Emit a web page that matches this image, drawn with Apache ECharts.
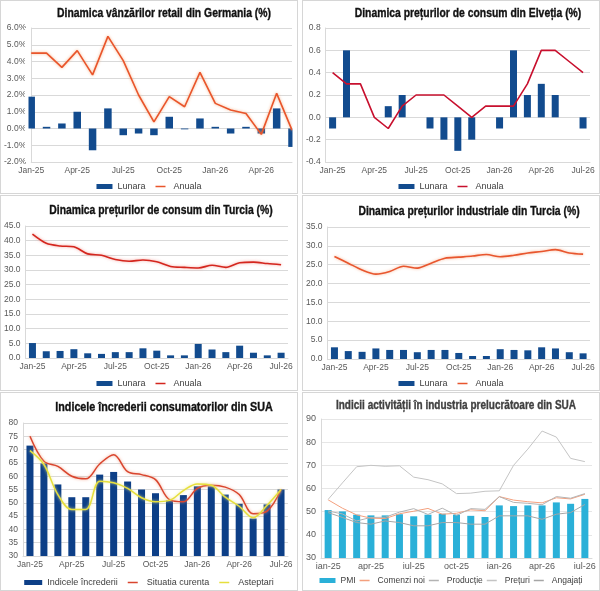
<!DOCTYPE html>
<html>
<head>
<meta charset="utf-8">
<script src="https://cdn.jsdelivr.net/npm/echarts@6/dist/echarts.min.js"></script>
<style>
  body { margin: 0; background: #fff; }
  .wrap { position: relative; width: 600px; height: 591px; overflow: hidden; }
  .p { position: absolute; border: 1px solid #d6d6d6; box-sizing: border-box; }
</style>
</head>
<body>
<div class="wrap">
  <div class="p" id="c1" style="left:0;top:0;width:298px;height:194px"></div>
  <div class="p" id="c2" style="left:302px;top:0;width:298px;height:194px"></div>
  <div class="p" id="c3" style="left:0;top:195px;width:298px;height:196px"></div>
  <div class="p" id="c4" style="left:302px;top:195px;width:298px;height:196px"></div>
  <div class="p" id="c5" style="left:0;top:392px;width:298px;height:199px"></div>
  <div class="p" id="c6" style="left:302px;top:392px;width:298px;height:199px"></div>
</div>
<script>
// luni (axa X)
var luni = ['Jan-25', 'Feb-25', 'Mar-25', 'Apr-25', 'May-25', 'Jun-25', 'Jul-25', 'Aug-25', 'Sep-25', 'Oct-25', 'Nov-25', 'Dec-25',
            'Jan-26', 'Feb-26', 'Mar-26', 'Apr-26', 'May-26', 'Jun-26', 'Jul-26'];
var luniRo = ['ian-25', 'feb-25', 'mar-25', 'apr-25', 'mai-25', 'iun-25', 'iul-25', 'aug-25', 'sep-25', 'oct-25', 'noi-25', 'dec-25',
              'ian-26', 'feb-26', 'mar-26', 'apr-26', 'mai-26', 'iun-26', 'iul-26'];

// Germania - vanzari retail (%)
var deLunara = [1.9, 0.1, 0.3, 1.0, -1.3, 1.2, -0.4, -0.3, -0.4, 0.7, -0.05, 0.6, 0.1, -0.3, 0.1, -0.3, 1.2, -1.1];
var deAnuala = [4.5, 4.5, 3.65, 4.65, 3.2, 5.5, 4.05, 2.0, 0.4, 1.9, 1.3, 3.35, 1.5, 1.1, 0.9, -0.35, 2.1, -0.1];

// Elvetia - preturi de consum (%)
var chLunara = [-0.1, 0.6, 0, 0, 0.1, 0.2, 0, -0.1, -0.2, -0.3, -0.2, 0, -0.1, 0.6, 0.2, 0.3, 0.2, 0, -0.1];
var chAnuala = [0.4, 0.3, 0.3, 0, -0.1, 0.1, 0.2, 0.2, 0.2, 0.1, 0, 0.1, 0.1, 0.1, 0.3, 0.6, 0.6, 0.5, 0.4];

// Turcia - preturi de consum (%)
var trLunara = [5.1, 2.3, 2.4, 3.0, 1.6, 1.4, 2.0, 2.0, 3.3, 2.5, 0.9, 0.9, 4.8, 2.9, 2.0, 4.2, 1.8, 0.9, 1.8];
var trAnuala = [42.2, 39.1, 38.2, 37.9, 35.5, 35.0, 33.6, 33.0, 33.4, 32.8, 31.2, 30.9, 30.7, 31.6, 30.9, 32.5, 32.7, 32.2, 31.8];

// Turcia - preturi industriale (%)
var ppiLunara = [3.1, 2.1, 1.9, 2.8, 2.4, 2.4, 1.8, 2.4, 2.4, 1.6, 0.8, 0.8, 2.6, 2.4, 2.3, 3.1, 2.8, 1.8, 1.5];
var ppiAnuala = [27.2, 25.4, 23.6, 22.5, 23.2, 24.6, 24.1, 25.4, 26.7, 27.0, 27.3, 27.7, 27.1, 27.5, 28.1, 28.5, 29.0, 28.1, 27.8];

// SUA - increderea consumatorilor
var incredere = [71.5, 64.8, 56.9, 52.1, 52.1, 60.6, 61.6, 58.0, 55.0, 53.6, 50.9, 52.9, 56.2, 56.2, 53.1, 49.6, 44.1, 49.4, 55.0];
var situatie = [75.0, 65.6, 63.7, 60.0, 59.0, 64.6, 68.1, 61.7, 60.6, 58.7, 51.2, 50.4, 55.4, 56.6, 55.9, 53.1, 45.9, 46.9, 55.0];
var asteptari = [69.6, 64.4, 53.1, 47.5, 47.5, 58.1, 57.5, 55.4, 51.9, 50.4, 50.9, 54.6, 57.1, 56.6, 52.1, 48.7, 44.4, 49.1, 55.0];

// SUA - industria prelucratoare
var pmi = [50.7, 50.1, 48.7, 48.4, 48.4, 48.9, 48.0, 48.7, 49.1, 48.7, 48.2, 47.7, 52.7, 52.4, 52.7, 52.7, 54.0, 53.4, 55.5];
var comenzi = [55.1, 51.5, 48.6, 47.2, 47.0, 49.1, 50.2, 51.4, 48.9, 49.3, 50.8, 50.4, 56.5, 55.0, 54.3, 53.8, 56.0, 55.5, 57.5];
var productie = [50.3, 49.0, 46.0, 47.5, 47.6, 49.8, 51.3, 48.8, 51.5, 48.4, 51.3, 51.0, 56.5, 54.0, 53.6, 53.0, 56.5, 55.8, 57.8];
var preturi = [55.3, 62.4, 69.4, 70.0, 69.6, 69.8, 64.9, 63.8, 62.0, 57.8, 58.0, 58.8, 59.0, 70.0, 77.0, 84.8, 82.2, 73.0, 71.6];
var angajati = [49.6, 47.5, 45.3, 44.6, 46.0, 45.3, 43.9, 43.9, 45.3, 45.3, 44.6, 44.6, 48.2, 48.2, 48.2, 46.7, 48.9, 49.6, 53.1];

var FONT = "'Liberation Sans Narrow', 'Arial Narrow', sans-serif";
var GRID = '#d9d9d9';
// linie subtire centrata in caseta iconului din legenda
var LINE_ICON = 'path://M0,0h0.1v0.1h-0.1z M0,3.6h20v2.8h-20z M0,9.9h0.1v0.1h-0.1z';

function titlu(text, x, y, sx, color) {
  var c = color || '#111';
  return {
    type: 'text', x: x, y: y, scaleX: sx, silent: true, z: 10,
    style: {
      text: text, font: 'bold 12.5px ' + FONT, fill: c, stroke: c, lineWidth: 0.35,
      textAlign: 'center', textVerticalAlign: 'middle'
    }
  };
}

function axaX(data, gap) {
  return {
    type: 'category', data: data, boundaryGap: gap,
    axisLine: { onZero: false, lineStyle: { color: GRID } },
    axisTick: { show: false },
    axisLabel: { interval: 2, margin: 4, fontSize: 8.5, fontFamily: FONT, color: '#595959' },
    splitLine: { show: false }
  };
}

function axaY(min, max, step, dec, suf) {
  return {
    type: 'value', min: min, max: max, interval: step,
    axisLine: { show: true, lineStyle: { color: GRID } },
    axisTick: { show: false },
    axisLabel: {
      margin: 5, fontSize: 8.5, fontFamily: FONT, color: '#595959',
      formatter: function (v) { return v.toFixed(dec) + (suf || ''); }
    },
    splitLine: { lineStyle: { color: GRID, width: 1 } }
  };
}

function legenda(top, items, w, gap) {
  return {
    top: top, left: 'center', padding: 0, itemWidth: w || 16, itemHeight: 5, itemGap: gap || 10,
    textStyle: { fontSize: 9, fontFamily: FONT, color: '#404040' },
    data: items.map(function (it) {
      return { name: it[0], icon: it[1] ? 'rect' : LINE_ICON };
    })
  };
}

// grafic standard: Lunara (bare) + Anuala (linie)
function lunarAnual(id, o) {
  var chart = echarts.init(document.getElementById(id));
  var graphic = [titlu(o.titlu, o.tx, o.ty, 0.83)];
  if (o.masca) {
    // axa cu boundaryGap false: barele de la capete sunt taiate de marginea graficului
    var w = chart.getWidth();
    var h = chart.getHeight() - o.grid.top - o.grid.bottom;
    graphic.push({ type: 'rect', z: 5, silent: true, shape: { x: o.grid.left - 4, y: o.grid.top, width: 3.5, height: h }, style: { fill: '#fff' } });
    graphic.push({ type: 'rect', z: 5, silent: true, shape: { x: w - o.grid.right + 0.5, y: o.grid.top, width: 6, height: h }, style: { fill: '#fff' } });
  }
  chart.setOption({
    animation: false,
    graphic: graphic,
    grid: o.grid,
    legend: legenda(o.ly, [['Lunara', true], ['Anuala', false]]),
    xAxis: axaX(o.x, o.gap),
    yAxis: axaY(o.min, o.max, o.step, 1, o.suf),
    series: [
      { name: 'Lunara', type: 'bar', data: o.lunar, barWidth: o.bw, itemStyle: { color: '#124b8e' } },
      {
        name: 'Anuala', type: 'line', data: o.anual, symbol: 'none', smooth: o.smooth || false,
        lineStyle: { color: o.lc, width: 1.6, shadowColor: o.glow, shadowBlur: 3 },
        itemStyle: { color: o.lc }
      }
    ]
  });
}

lunarAnual('c1', {
  titlu: 'Dinamica vânzărilor retail din Germania (%)', tx: 163, ty: 13,
  grid: { left: 28, right: 5, top: 27, bottom: 31 }, masca: true,
  ly: 181, x: luni.slice(0, 18), gap: false, min: -2, max: 6, step: 1, suf: '%',
  lunar: deLunara, anual: deAnuala, bw: 7.5, lc: '#e9552b', glow: 'rgba(245,160,110,0.8)'
});

lunarAnual('c2', {
  titlu: 'Dinamica prețurilor de consum din Elveția (%)', tx: 165, ty: 13,
  grid: { left: 21, right: 9, top: 27, bottom: 31 },
  ly: 181, x: luni, gap: true, min: -0.4, max: 0.8, step: 0.2,
  lunar: chLunara, anual: chAnuala, bw: 7, lc: '#c8102e', glow: 'rgba(200,16,46,0)'
});

lunarAnual('c3', {
  titlu: 'Dinamica prețurilor de consum din Turcia (%)', tx: 160, ty: 15,
  grid: { left: 23, right: 9, top: 30, bottom: 32 },
  ly: 183, x: luni, gap: true, min: 0, max: 45, step: 5,
  lunar: trLunara, anual: trAnuala, bw: 7, lc: '#d4261e', glow: 'rgba(240,120,110,0.7)', smooth: 0.3
});

lunarAnual('c4', {
  titlu: 'Dinamica prețurilor industriale din Turcia (%)', tx: 166, ty: 16,
  grid: { left: 21, right: 9, top: 31, bottom: 31 },
  ly: 183, x: luni, gap: true, min: 0, max: 35, step: 5,
  lunar: ppiLunara, anual: ppiAnuala, bw: 7, lc: '#e8562e', glow: 'rgba(245,160,120,0.8)', smooth: 0.3
});

// increderea consumatorilor SUA
(function () {
  var chart = echarts.init(document.getElementById('c5'));
  chart.setOption({
    animation: false,
    graphic: [titlu('Indicele încrederii consumatorilor din SUA', 163, 15, 0.86)],
    grid: { left: 22, right: 9, top: 30, bottom: 34 },
    legend: legenda(185, [['Indicele încrederii', true], ['Situatia curenta', false], ['Asteptari', false]], 18, 10),
    xAxis: axaX(luni, true),
    yAxis: axaY(30, 80, 5, 0),
    series: [
      { name: 'Indicele încrederii', type: 'bar', data: incredere, barWidth: 7, itemStyle: { color: '#0d3f87' } },
      {
        name: 'Situatia curenta', type: 'line', data: situatie, symbol: 'none', smooth: 0.35,
        lineStyle: { color: '#d9452e', width: 1.5, shadowColor: 'rgba(240,150,120,0.8)', shadowBlur: 3 },
        itemStyle: { color: '#d9452e' }
      },
      {
        name: 'Asteptari', type: 'line', data: asteptari, symbol: 'none', smooth: 0.35,
        lineStyle: { color: '#e6df3c', width: 1.5, shadowColor: 'rgba(240,235,140,0.9)', shadowBlur: 3 },
        itemStyle: { color: '#e6df3c' }
      }
    ]
  });
})();

// industria prelucratoare SUA
(function () {
  var chart = echarts.init(document.getElementById('c6'));
  var linie = function (name, data, color) {
    return {
      name: name, type: 'line', data: data, symbol: 'none',
      lineStyle: { color: color, width: 1 }, itemStyle: { color: color }
    };
  };
  var ax = axaX(luniRo, true);
  ax.axisLabel.fontSize = 9;
  var ay = axaY(30, 90, 10, 0);
  ay.splitLine.lineStyle.color = '#e6e6e6';
  ay.axisLabel.fontSize = 9;
  var leg = legenda(183, [['PMI', true], ['Comenzi noi', false], ['Producție', false], ['Prețuri', false], ['Angajați', false]], 16, 4);
  leg.textStyle.fontSize = 8.5;
  chart.setOption({
    animation: false,
    graphic: [titlu('Indicii activității în industria prelucrătoare din SUA', 153, 13, 0.8, '#404040')],
    grid: { left: 17, right: 7, top: 26, bottom: 32 },
    legend: leg,
    xAxis: ax,
    yAxis: ay,
    series: [
      { name: 'PMI', type: 'bar', data: pmi, barWidth: 7, itemStyle: { color: '#2ab0d8' } },
      linie('Comenzi noi', comenzi, '#f4a07e'),
      linie('Producție', productie, '#b3b3b3'),
      linie('Prețuri', preturi, '#c4c4c4'),
      linie('Angajați', angajati, '#a6a6a6')
    ]
  });
})();
</script>
</body>
</html>
